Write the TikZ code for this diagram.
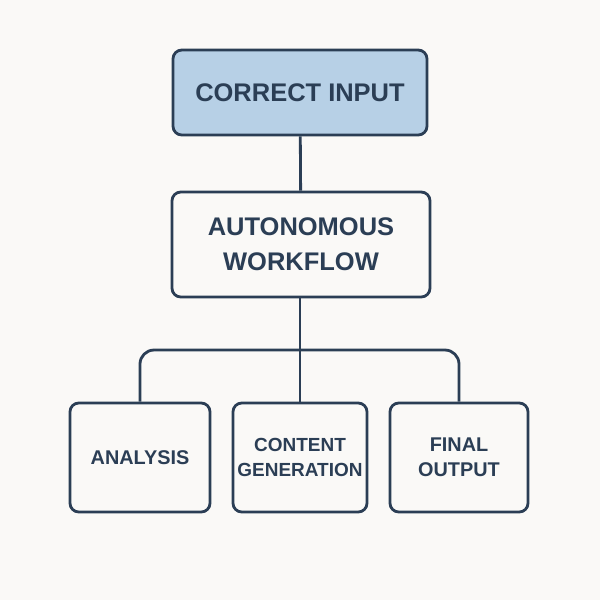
\documentclass[tikz,border=0pt]{standalone}
\usepackage{fontspec}
\setmainfont{Liberation Sans}
\usetikzlibrary{positioning}
\definecolor{navy}{RGB}{43,62,85}
\definecolor{lblue}{RGB}{183,208,230}
\definecolor{paper}{RGB}{250,249,247}

\begin{document}
\begin{tikzpicture}[x=0.02cm,y=-0.02cm,line width=1.6pt]
      \tikzstyle{box}=[draw=navy,rounded corners=5pt,text=navy,align=center,inner sep=0pt]

      \fill[paper] (0,0) rectangle (600,600);
      \useasboundingbox (0,0) rectangle (600,600);

      \node[box,fill=lblue,minimum width=254*0.02cm,minimum height=85*0.02cm,font=\fontsize{14.5}{18}\bfseries]	(I) at (300,92.5) {CORRECT INPUT};
      \node[box,minimum width=258*0.02cm,minimum height=105*0.02cm,font=\fontsize{14.5}{20}\bfseries]	(W) at (301,244.5) {AUTONOMOUS\\WORKFLOW};
      \node[box,minimum width=140*0.02cm,minimum height=109*0.02cm,font=\fontsize{11.3}{14}\bfseries]	(A) at (140,457.5) {ANALYSIS};
      \node[box,minimum width=134*0.02cm,minimum height=109*0.02cm,font=\fontsize{10.8}{14}\bfseries]	(C) at (300,457.5) {CONTENT\\GENERATION};
      \node[box,minimum width=138*0.02cm,minimum height=109*0.02cm,font=\fontsize{11.3}{14}\bfseries]	(F) at (459,457.5) {FINAL\\OUTPUT};
      \coordinate (J) at (300,350);

      \draw[navy] (I) -- (W);
      \draw[navy] (W.south -| I) -- (C);
      \draw[navy,rounded corners=8pt] (A.north) |- (J) -| (F.north);

  \end{tikzpicture}
\end{document}
